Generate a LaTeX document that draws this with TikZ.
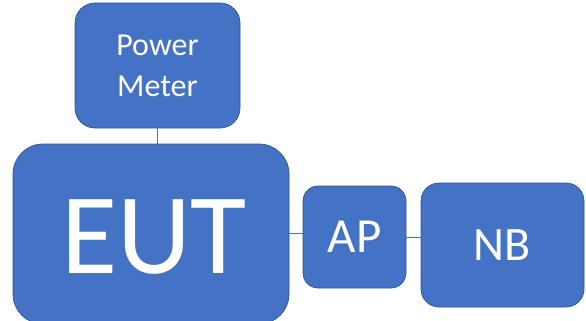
\documentclass[tikz,border=0pt]{standalone}
\usepackage{fontspec}
\setmainfont{Carlito}
\definecolor{boxfill}{HTML}{4472C4}
\definecolor{boxedge}{HTML}{2F528F}
\begin{document}
\begin{tikzpicture}[x=1pt,y=-1pt,
  blk/.style={draw=boxedge, line width=0.7pt, fill=boxfill, text=white, align=center, inner sep=0pt},
  link/.style={draw=boxfill, line width=0.9pt}]
\useasboundingbox (0,0) rectangle (586,321);
\node[blk, minimum width=165pt, minimum height=125pt, rounded corners=20pt,
  font=\fontsize{32}{41}\selectfont] (pm) at (157.5,65.5) {Power\\Meter};
\node[blk, minimum width=276pt, minimum height=180pt, rounded corners=30pt] (eut) at (151,234) {};
\node[text=white, font=\fontsize{115}{120}\selectfont, inner sep=0pt] (euttext) at (154,237) {EUT};
\node[blk, minimum width=103pt, minimum height=102pt, rounded corners=15pt,
  font=\fontsize{49}{50}\selectfont] (ap) at (354.5,237) {AP};
\node[blk, minimum width=163pt, minimum height=124pt, rounded corners=18pt,
  font=\fontsize{48}{50}\selectfont] (nb) at (502.5,245) {NB};
\draw[link] (pm.south) -- (pm.south |- eut.north);
\draw[link] (eut.east |- 0,233) -- (ap.west |- 0,233);
\draw[link] (ap.east |- 0,237) -- (nb.west |- 0,237);
\end{tikzpicture}
\end{document}
